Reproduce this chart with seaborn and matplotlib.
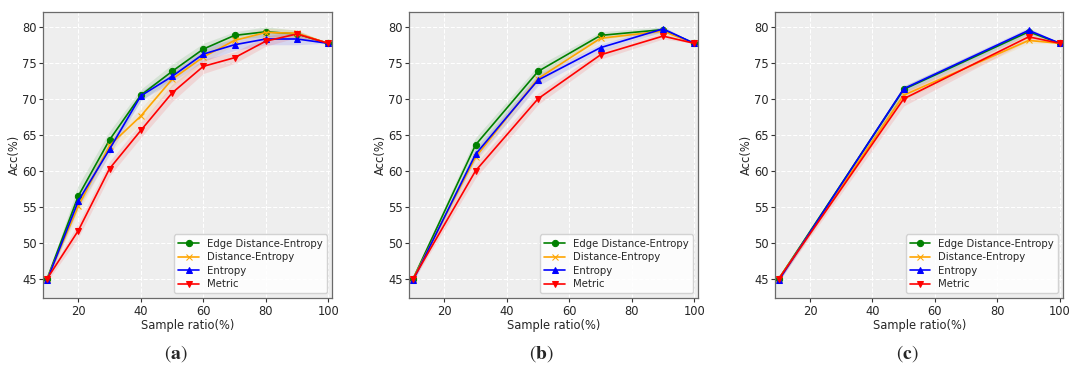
import numpy as np
import matplotlib
matplotlib.use('Agg')
import matplotlib.pyplot as plt
import seaborn as sns

# Data
names = ['Edge Distance-Entropy', 'Distance-Entropy', 'Entropy', 'Metric']
colors = ['green', 'orange', 'blue', 'red']
markers = ['o', 'x', '^', 'v']

x_a = [10, 20, 30, 40, 50, 60, 70, 80, 90, 100]
acc_a = {
    'Edge Distance-Entropy': [45.0, 56.5, 64.3, 70.5, 73.8, 76.9, 78.8, 79.3, 79.0, 77.7],
    'Distance-Entropy': [45.0, 55.1, 63.5, 67.6, 72.7, 75.8, 78.1, 79.2, 79.1, 77.7],
    'Entropy': [44.8, 55.8, 63.0, 70.4, 73.1, 76.2, 77.5, 78.3, 78.3, 77.7],
    'Metric': [45.0, 51.7, 60.3, 65.6, 70.8, 74.5, 75.7, 78.0, 79.0, 77.7],
}
std_a = {
    'Edge Distance-Entropy': [0.3, 1.5, 1.2, 0.8, 1.0, 0.8, 0.5, 0.7, 0.5, 0.0],
    'Distance-Entropy': [0.3, 1.0, 1.0, 1.0, 1.0, 0.8, 0.6, 0.6, 0.5, 0.0],
    'Entropy': [0.3, 1.0, 0.8, 0.6, 0.8, 1.0, 0.8, 0.8, 0.8, 0.0],
    'Metric': [0.4, 1.0, 1.0, 1.0, 1.2, 1.0, 0.8, 0.7, 0.5, 0.0],
}

x_b = [10, 30, 50, 70, 90, 100]
acc_b = {
    'Edge Distance-Entropy': [45.0, 63.6, 73.8, 78.8, 79.6, 77.7],
    'Distance-Entropy': [45.0, 61.9, 72.8, 78.4, 79.4, 77.7],
    'Entropy': [44.8, 62.3, 72.6, 77.1, 79.7, 77.7],
    'Metric': [45.0, 60.0, 70.0, 76.1, 78.7, 77.7],
}
std_b = {
    'Edge Distance-Entropy': [0.3, 1.0, 0.8, 0.5, 0.4, 0.0],
    'Distance-Entropy': [0.3, 0.8, 0.7, 0.5, 0.4, 0.0],
    'Entropy': [0.3, 0.8, 0.8, 0.5, 0.4, 0.0],
    'Metric': [0.3, 1.0, 0.8, 0.6, 0.4, 0.0],
}

x_c = [10, 50, 90, 100]
acc_c = {
    'Edge Distance-Entropy': [45.0, 71.3, 79.3, 77.7],
    'Distance-Entropy': [45.0, 70.5, 78.1, 77.7],
    'Entropy': [44.8, 71.4, 79.5, 77.7],
    'Metric': [45.0, 70.0, 78.6, 77.7],
}
std_c = {
    'Edge Distance-Entropy': [0.3, 0.5, 0.4, 0.0],
    'Distance-Entropy': [0.3, 0.6, 0.4, 0.0],
    'Entropy': [0.3, 0.4, 0.4, 0.0],
    'Metric': [0.3, 1.0, 0.5, 0.0],
}

panels = [('a', x_a, acc_a, std_a), ('b', x_b, acc_b, std_b), ('c', x_c, acc_c, std_c)]

sns.set_style('darkgrid', {
    'axes.facecolor': '#eeeeee',
    'grid.color': 'white',
    'grid.linestyle': '--',
    'axes.edgecolor': '#6a6a6a',
    'xtick.bottom': True,
    'ytick.left': True,
})
plt.rcParams['font.family'] = ['DejaVu Sans']
plt.rcParams['mathtext.fontset'] = 'stix'

fs = 8.3
fig = plt.figure(figsize=(10.8, 3.74), dpi=100)
lefts = [0.0401, 0.379, 0.7176]

for (tag, xs, accs, stds), left in zip(panels, lefts):
    ax = fig.add_axes([left, 0.2024, 0.267, 0.7646])
    for name, c, m in zip(names, colors, markers):
        y = np.array(accs[name])
        s = np.array(stds[name])
        ax.fill_between(xs, y - s, y + s, color=c, alpha=0.1, linewidth=0)
        sns.lineplot(x=xs, y=y, ax=ax, color=c, marker=m, markersize=4.5,
                     markeredgecolor=c, linewidth=1.2, label=name)
    ax.set_xlim(8.8, 101.1)
    ax.set_ylim(42.3, 82)
    ax.set_xticks([20, 40, 60, 80, 100])
    ax.set_yticks([45, 50, 55, 60, 65, 70, 75, 80])
    ax.tick_params(labelsize=fs, length=3, width=0.8, color='#333333', pad=1.5)
    ax.grid(True, linewidth=0.8)
    ax.set_xlabel('Sample ratio(%)', fontsize=fs, labelpad=1)
    ax.set_ylabel('Acc(%)', fontsize=fs, labelpad=1)
    for sp in ax.spines.values():
        sp.set_linewidth(0.9)
    ax.legend(loc='lower right', fontsize=7.3,
              frameon=True, framealpha=0.85, edgecolor='#cccccc', facecolor='white',
              handlelength=2.0, handletextpad=0.8, labelspacing=0.35)
    cx = left + 0.267 / 2 - 12 / 1080
    fig.text(cx, 0.056, r'$(\mathbf{' + tag + r'})$', ha='center', va='center', fontsize=14)

fig.savefig('out.png', dpi=100)
plt.close(fig)
